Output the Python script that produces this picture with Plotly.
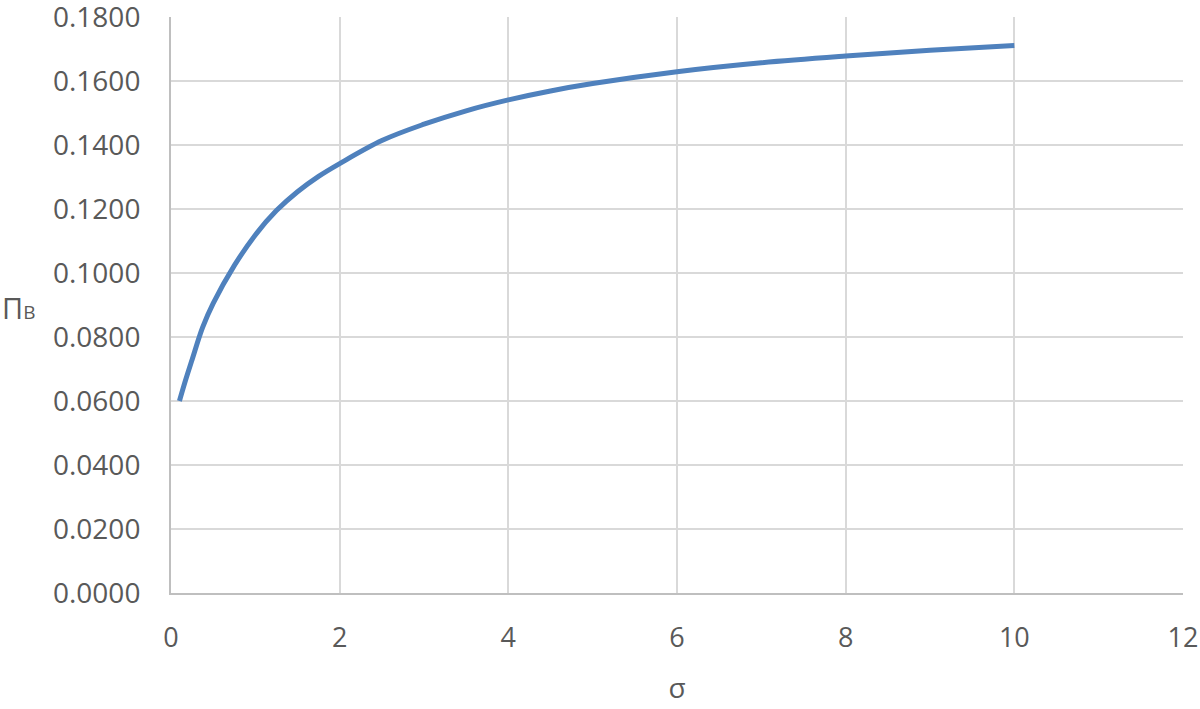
import plotly.graph_objects as go

sigma = [0.1, 0.175, 0.25, 0.375, 0.5, 0.75, 1.0, 1.25, 1.5, 1.75, 2.0, 2.5, 3.0, 3.5, 4.0, 4.5, 5.0, 6.0, 7.0, 8.0, 9.0, 10.0]
pi_b = [0.0600, 0.0667, 0.0729, 0.0830, 0.0905, 0.1023, 0.1119, 0.1195, 0.1254, 0.1302, 0.1342, 0.1414, 0.1465, 0.1507, 0.1541, 0.1569, 0.1592, 0.1629, 0.1657, 0.1678, 0.1696, 0.1711]

x_ticks = [0, 2, 4, 6, 8, 10, 12]
y_ticks = [0.0, 0.02, 0.04, 0.06, 0.08, 0.10, 0.12, 0.14, 0.16, 0.18]

FONT = "Open Sans"
TXT = "#595959"

PLOT_W = 1200 - 171 - 17

fig = go.Figure()
fig.add_trace(go.Scatter(
    x=sigma, y=pi_b, mode="lines",
    line=dict(color="#4F81BD", width=5, shape="spline", smoothing=1.0),
    showlegend=False, hoverinfo="skip",
))

fig.update_layout(
    width=1200, height=709,
    margin=dict(l=171, r=17, t=17, b=116),
    paper_bgcolor="white", plot_bgcolor="white",
    font=dict(family=FONT, size=28, color=TXT),
    xaxis=dict(
        range=[0, 12.0001], tickvals=x_ticks, ticktext=[str(v) for v in x_ticks],
        showgrid=True, gridcolor="#d9d9d9", gridwidth=1.5,
        showline=True, linecolor="#bfbfbf", linewidth=2,
        zeroline=False, ticks="", ticklen=0,
        tickfont=dict(family=FONT, size=27, color=TXT),
        ticklabelstandoff=20,
        ticklabeloverflow="allow",
        automargin=False,
        title=dict(text="σ", font=dict(family=FONT, size=28, color=TXT), standoff=24),
    ),
    yaxis=dict(
        range=[0, 0.18001], tickvals=y_ticks, tickformat=".4f",
        showgrid=True, gridcolor="#d9d9d9", gridwidth=1.5,
        showline=True, linecolor="#bfbfbf", linewidth=2,
        zeroline=False, ticks="", ticklen=0,
        tickfont=dict(family=FONT, size=28, color=TXT),
        ticklabelstandoff=23,
        ticklabeloverflow="allow",
        automargin=False,
    ),
    annotations=[dict(
        text="Π<span style='font-size:19px'>B</span>", xref="paper", yref="paper",
        x=-171 / PLOT_W, y=0.4957, xanchor="left", yanchor="middle", showarrow=False,
        font=dict(family=FONT, size=29, color=TXT),
    )],
)

fig.write_html("out.html", config={"displayModeBar": False},
               post_script="document.body.style.margin='0';")
